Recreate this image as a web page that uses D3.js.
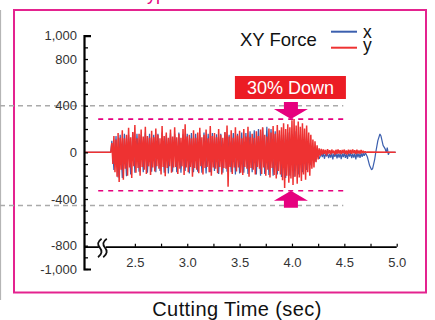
<!DOCTYPE html>
<html><head><meta charset="utf-8">
<script src="https://cdn.jsdelivr.net/npm/d3@7"></script>
<style>body{margin:0;background:#fff}svg{display:block}text{font-family:"Liberation Sans",Arial,Helvetica,sans-serif}</style>
</head><body><svg id="c" width="435" height="320"></svg>
<script>
// ---- data ----
const timeDomain = [2.0, 5.0];
const forceDomain = [-1000, 1000];
const forceTicks = d3.range(-1000, 1001, 100);
const forceLabels = [1000, 800, 400, 0, -400, -800, -1000];
const timeTicks = [2.5, 2.75, 3.0, 3.25, 3.5, 3.75, 4.0, 4.25, 4.5, 4.75, 5.0];
const timeLabels = [2.5, 3.0, 3.5, 4.0, 4.5, 5.0];
const seriesNames = ["x", "y"];
const legendTitle = "XY Force";
const axisTitle = "Cutting Time (sec)";
const panelTitle = "● Conventional type";

const idleTimes = [2.02, 2.27];

// y-force during cutting: peak/trough per 0.02 s
const burstStart = 2.28, burstStep = 0.02;
const yBurstHi = [
  80, 140, 110, 165, 125, 190, 120, 150, 210, 130,
  175, 235, 120, 160, 195, 135, 220, 140, 125, 185,
  130, 205, 150, 120, 225, 140, 170, 125, 195, 135,
  215, 130, 160, 125, 200, 240, 135, 150, 120, 190,
  125, 170, 210, 130, 150, 195, 120, 225, 140, 165,
  130, 200, 150, 125, 175, 230, 135, 190, 125, 215,
  145, 185, 120, 200, 135, 220, 130, 160, 125, 180,
  140, 195, 215, 150, 135, 205, 170, 225, 160, 235,
  190, 215, 250, 200, 240, 215, 275, 285, 230, 265,
  220, 250, 205, 230, 170, 150, 110, 95, 60, 35];
const yBurstLo = [
  -100, -170, -210, -255, -150, -235, -140, -200, -130, -220,
  -120, -175, -135, -200, -125, -150, -185, -120, -195, -130,
  -165, -120, -140, -190, -125, -205, -135, -120, -175, -130,
  -125, -185, -140, -120, -195, -130, -170, -125, -210, -135,
  -150, -180, -120, -190, -135, -125, -170, -200, -130, -140,
  -180, -125, -190, -135, -140, -295, -125, -185, -130, -165,
  -130, -175, -195, -125, -140, -210, -135, -150, -190, -125,
  -140, -185, -130, -200, -150, -215, -135, -195, -225, -160,
  -190, -240, -305, -200, -260, -225, -280, -210, -270, -215,
  -245, -190, -235, -170, -200, -140, -130, -85, -60, -30];

// x-force during cutting: peak/trough per 0.04 s
const xBurstStep = 0.04;
const xBurstHi = [
  100, 140, 150, 160, 150, 170, 160, 150, 170, 160,
  150, 160, 170, 150, 165, 160, 170, 155, 160, 165,
  160, 150, 170, 160, 165, 155, 160, 170, 150, 165,
  160, 170, 165, 180, 190, 200, 210, 220, 200, 180,
  160, 150, 170, 160, 180, 150, 120, 80, 40, 10];
const xBurstLo = [
  -150, -215, -220, -205, -190, -175, -165, -170, -175, -165,
  -170, -160, -175, -180, -165, -170, -175, -160, -180, -170,
  -165, -175, -180, -170, -160, -185, -175, -165, -170, -190,
  -180, -175, -185, -170, -190, -200, -185, -195, -200, -190,
  -210, -220, -200, -210, -190, -170, -150, -110, -80, -55];

// run-out after the cut (0.02 s steps)
const tailStart = 4.28, tailStep = 0.02;
const yTailHi = [30, 25, 20, 28, 18, 24, 15, 22, 26, 18, 20, 24, 16, 22, 20, 25, 18, 22, 15, 20, 12, 8];
const yTailLo = [-20, -12, -25, -10, -18, -8, -20, -12, -10, -15, -8, -14, -18, -10, -12, -8, -15, -10, -12, -6, -5, -2];
const xTailHi = [-10, -5, -12, -8, -15, -6, -10, -4, -12, -8, -10, -5, -14, -8, -6, -12, -9, -5, -10, -7, -8, -6];
const xTailLo = [-40, -55, -35, -50, -45, -60, -38, -52, -44, -58, -40, -48, -55, -36, -50, -45, -60, -42, -48, -38, -30, -20];

// tool retraction
const xEndTimes = [4.72, 4.74, 4.76, 4.77, 4.79, 4.80, 4.82, 4.84, 4.85, 4.87, 4.89, 4.90, 4.91, 4.92, 4.93, 4.99];
const xEndValues = [-40, -110, -150, -140, -60, 0, 100, 157, 140, 60, 30, 0, 40, -20, 0, 0];
const yEndTimes = [4.72, 4.99];
const yEndValues = [4, 0];

// reference levels
const guideLevels = [400, -455];
const limitLevels = [285, -329];
const limitSpan = [2.15, 4.49];
const markTime = 3.99;
const calloutText = "30% Down";
const breakTime = 2.19;

// ---- drawing ----
const svg = d3.select("#c");
const pink = "#e4238f", magenta = "#e6007e", blue = "#3b5fae", red = "#ee3232", grey = "#aaa";

const x = d3.scaleLinear().domain(timeDomain).range([82.5, 396.7]);
const y = d3.scaleLinear().domain(forceDomain).range([269, 35.7]);
const minus = d3.formatLocale({decimal: ".", thousands: ",", grouping: [3], currency: ["$", ""], minus: "-"});
const fmtForce = minus.format(",");
const fmtTime = d3.format(".1f");

// heading of the panel, running off the top edge
svg.append("text").attr("x", 16).attr("y", -0.5).attr("fill", magenta)
  .attr("font-size", 18).text(panelTitle);

// left edge rule
svg.append("line").attr("x1", 0.5).attr("x2", 0.5).attr("y1", 10).attr("y2", 300)
  .attr("stroke", "#b5b5b5").attr("stroke-width", 1.2);

// panel frame
svg.append("rect").attr("x", 14).attr("y", 10).attr("width", 412).attr("height", 282.5)
  .attr("fill", "none").attr("stroke", pink).attr("stroke-width", 2);

// gray reference levels
svg.selectAll(".guide").data(guideLevels).join("line").attr("class", "guide")
  .attr("x1", 0).attr("x2", x(limitSpan[1]))
  .attr("y1", d => y(d)).attr("y2", d => y(d))
  .attr("stroke", grey).attr("stroke-width", 1.5).attr("stroke-dasharray", "5,4");

// signals
const zig = (start, step, hi, lo) => hi.flatMap((h, i) => [[start + i * step, h], [start + i * step + step / 2, lo[i]]]);
const xPts = [...idleTimes.map(t => [t, 0]),
  ...zig(burstStart, xBurstStep, xBurstHi, xBurstLo),
  ...zig(tailStart, tailStep, xTailHi, xTailLo),
  ...xEndTimes.map((t, i) => [t, xEndValues[i]])];
const yPts = [...idleTimes.map(t => [t, 0]),
  ...zig(burstStart, burstStep, yBurstHi, yBurstLo),
  ...zig(tailStart, tailStep, yTailHi, yTailLo),
  ...yEndTimes.map((t, i) => [t, yEndValues[i]])];
const line = d3.line().x(d => x(d[0])).y(d => y(d[1]));
svg.append("path").attr("d", line(xPts)).attr("fill", "none").attr("stroke", blue).attr("stroke-width", 1.2)
  .attr("stroke-linejoin", "bevel");
svg.append("path").attr("d", line(yPts)).attr("fill", "none").attr("stroke", red).attr("stroke-width", 1.5)
  .attr("stroke-linejoin", "bevel");

// limit lines
svg.selectAll(".limit").data(limitLevels).join("line").attr("class", "limit")
  .attr("x1", x(limitSpan[0])).attr("x2", x(limitSpan[1]))
  .attr("y1", d => y(d)).attr("y2", d => y(d))
  .attr("stroke", magenta).attr("stroke-width", 1.6).attr("stroke-dasharray", "5,5");

// arrows pointing at the limits
const ax = x(markTime);
limitLevels.forEach((lv, i) => {
  const dir = i === 0 ? -1 : 1; // arrow body sits above (top) or below (bottom)
  const tip = y(lv);
  const base = tip + dir * 10, end = tip + dir * 17;
  const p = d3.path();
  p.moveTo(ax, tip); p.lineTo(ax - 17, base); p.lineTo(ax - 7, base); p.lineTo(ax - 7, end);
  p.lineTo(ax + 7, end); p.lineTo(ax + 7, base); p.lineTo(ax + 17, base); p.closePath();
  svg.append("path").attr("d", p.toString()).attr("fill", magenta);
});

// callout
svg.append("rect").attr("x", ax - 56).attr("y", 76).attr("width", 111).attr("height", 23).attr("fill", "#ec1c24");
svg.append("text").attr("x", ax - 0.5).attr("y", 94.3).attr("text-anchor", "middle")
  .attr("fill", "#fff").attr("font-size", 18).text(calloutText);

// y axis
const yAxis = d3.axisLeft(y).tickValues(forceTicks).tickSizeInner(-4).tickSizeOuter(-7).tickPadding(7)
  .tickFormat(d => forceLabels.includes(d) ? fmtForce(d) : "");
const gy = svg.append("g").attr("transform", "translate(84,0)").call(yAxis);
gy.select(".domain").attr("stroke-width", 2.2);
gy.selectAll(".tick line").attr("stroke-width", 1.3);
gy.selectAll("text").attr("font-size", 13).attr("fill", "#333").attr("font-family", "Liberation Sans, Arial, sans-serif");

// x axis
const xAxis = d3.axisBottom(x).tickValues(timeTicks).tickSizeInner(-3).tickSizeOuter(0).tickPadding(11)
  .tickFormat(d => timeLabels.includes(d) ? fmtTime(d) : "");
const gx = svg.append("g").attr("transform", `translate(0,${y(-800) + 1})`).call(xAxis);
gx.select(".domain").attr("d", `M84,0.5H${x(timeDomain[1])}`).attr("stroke-width", 1.6);
gx.selectAll(".tick line").attr("stroke-width", 1.2);
gx.selectAll("text").attr("font-size", 13).attr("fill", "#333").attr("font-family", "Liberation Sans, Arial, sans-serif");

// axis break
const bx = x(breakTime), by = y(-800) + 1.5;
svg.append("rect").attr("x", bx - 3.5).attr("y", by - 4).attr("width", 7).attr("height", 8).attr("fill", "#fff");
[-2.6, 2.6].forEach(o => {
  const cx = bx + o, t = by - 8.5, b = by + 10, m = by + 0.5;
  svg.append("path")
    .attr("d", `M${cx + 1.8},${t} C${cx - 2.5},${t + 3} ${cx - 2.5},${m - 3} ${cx},${m} C${cx + 2.5},${m + 3} ${cx + 2.5},${b - 3} ${cx - 1.8},${b}`)
    .attr("fill", "none").attr("stroke", "#111").attr("stroke-width", 1.8);
});

// axis title
svg.append("text").attr("x", 237).attr("y", 316).attr("text-anchor", "middle")
  .attr("font-size", 20).attr("letter-spacing", 0.4).attr("fill", "#111").text(axisTitle);

// legend
svg.append("text").attr("x", 240).attr("y", 46).attr("font-size", 18.5).attr("fill", "#111").text(legendTitle);
const legendColors = [blue, red];
seriesNames.forEach((n, i) => {
  const ly = i === 0 ? 31.7 : 47.7;
  svg.append("line").attr("x1", 331).attr("x2", 357).attr("y1", ly).attr("y2", ly)
    .attr("stroke", legendColors[i]).attr("stroke-width", 2);
  svg.append("text").attr("x", 363).attr("y", i === 0 ? 37.5 : 51).attr("font-size", 17.5).attr("fill", "#111").text(n);
});
</script></body></html>
